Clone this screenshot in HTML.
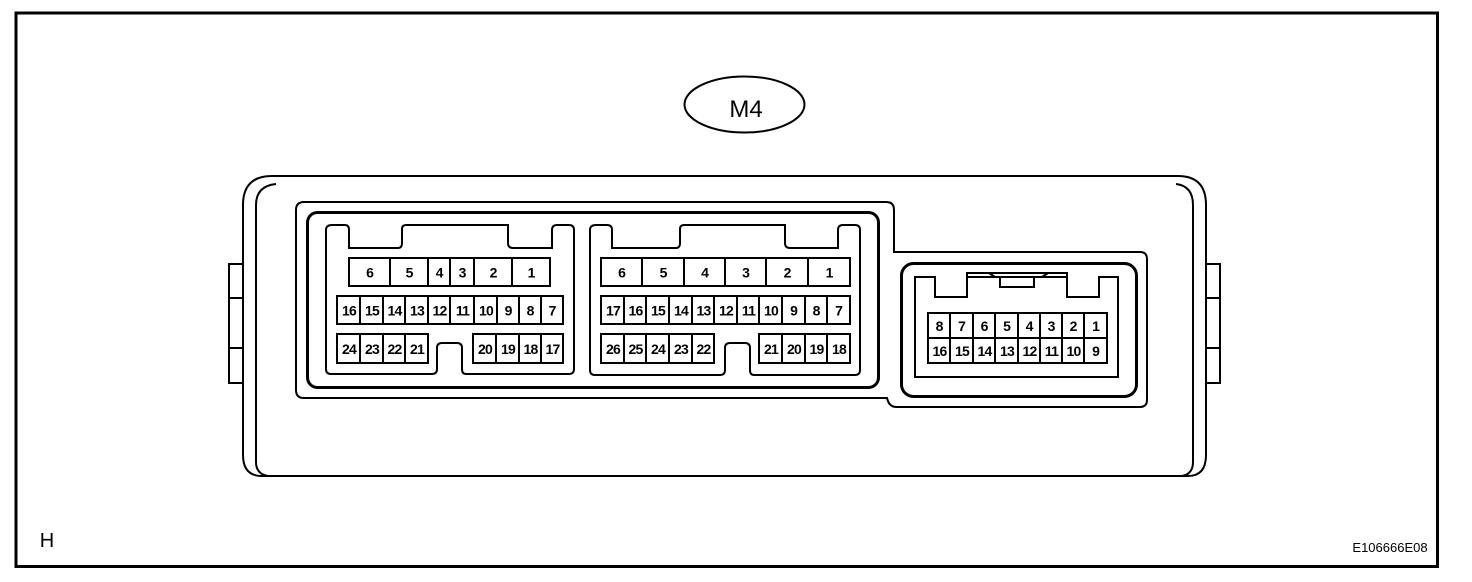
<!DOCTYPE html>
<html><head><meta charset="utf-8"><style>
html,body{margin:0;padding:0;background:#fff;}
svg{display:block;}
text{font-family:"Liberation Sans",Arial,sans-serif;font-weight:bold;fill:#000;text-anchor:middle;}
</style></head><body>
<svg width="1472" height="582" viewBox="0 0 1472 582" xmlns="http://www.w3.org/2000/svg">
<rect x="16" y="13" width="1421.5" height="553.5" fill="none" stroke="#000" stroke-width="3"/>
<ellipse cx="744.5" cy="104.5" rx="60" ry="28" fill="none" stroke="#000" stroke-width="2"/>
<text x="746" y="117" font-size="24" style="font-weight:normal">M4</text>
<text x="47" y="547" font-size="20" style="font-weight:normal">H</text>
<text x="1390" y="552" font-size="13" style="font-weight:normal">E106666E08</text>

<g fill="none" stroke="#000" stroke-width="2">
<path d="M243,265 V205 Q243,176 272,176 H1178 Q1206,176 1206,205 V455 Q1206,476 1188,476 H262 Q243,476 243,455 Z"/>
<path d="M256,205 Q256,186 276,184 M256,205 V462 Q256,474 268,476 M1193,205 Q1193,186 1176,184 M1193,205 V462 Q1193,474 1182,476"/>
<path d="M243,264 H229 V383 H243 M229,298 H243 M229,348 H243"/>
<path d="M1206,264 H1220 V383 H1206 M1206,298 H1220 M1206,348 H1220"/>
<path d="M304,202 H886 Q894,202 894,210 V252 H1140 Q1147,252 1147,259 V400 Q1147,407 1140,407 H896 Q889,407 887,398 H304 Q296,398 296,390 V210 Q296,202 304,202 Z"/>
</g>
<g fill="none" stroke="#000" stroke-width="3">
<rect x="307.5" y="212.5" width="571" height="175" rx="10"/>
<rect x="901.5" y="263.5" width="235" height="133" rx="12"/>
</g>
<g fill="none" stroke="#000" stroke-width="2">
<path d="M332,225 H345 Q349,225 349,230 V248 H398 Q402,248 402,243 V229 Q402,225 406,225 H508 V243 Q508,248 513,248 H552 V230 Q552,225 557,225 H569 Q574,225 574,230 V369 Q574,374 569,374 H466 Q462,374 462,369 V348 Q462,343 457,343 H442 Q437,343 437,348 V369 Q437,374 432,374 H331 Q326,374 326,369 V230 Q326,225 332,225 Z"/>
<path d="M596,225 H607 Q612,225 612,230 V248 H676 Q680,248 680,243 V229 Q680,225 684,225 H785 V243 Q785,248 790,248 H838 V230 Q838,225 843,225 H855 Q860,225 860,230 V370 Q860,375 855,375 H754 Q750,375 750,370 V348 Q750,343 745,343 H730 Q725,343 725,348 V370 Q725,375 720,375 H595 Q590,375 590,370 V230 Q590,225 596,225 Z"/>
<path d="M915,277 H935 V297 H967 V273 H1067 V297 H1099 V277 H1118 V377 H915 Z"/>
<path d="M967,277 H995 L989,273 M995,277 H1042 L1048,273 M1042,277 H1067"/>
<rect x="1000" y="277" width="34" height="10"/>
</g>
<g id="cells" fill="none" stroke="#000" stroke-width="2"></g>
<g id="labels" font-size="14"></g>
</svg>
<script>
var ns="http://www.w3.org/2000/svg";
var cg=document.getElementById('cells'),lg=document.getElementById('labels');
function row(xs,y1,y2,labels){
  var r=document.createElementNS(ns,'rect');
  r.setAttribute('x',xs[0]);r.setAttribute('y',y1);r.setAttribute('width',xs[xs.length-1]-xs[0]);r.setAttribute('height',y2-y1);cg.appendChild(r);
  for(var i=1;i<xs.length-1;i++){var l=document.createElementNS(ns,'line');l.setAttribute('x1',xs[i]);l.setAttribute('x2',xs[i]);l.setAttribute('y1',y1);l.setAttribute('y2',y2);cg.appendChild(l);}
  for(var i=0;i<labels.length;i++){var t=document.createElementNS(ns,'text');t.setAttribute('x',(xs[i]+xs[i+1])/2+0.5);t.setAttribute('y',(y1+y2)/2+5.5);t.textContent=labels[i];
    if(labels[i].length>1){t.setAttribute('letter-spacing','-0.8');t.setAttribute('font-size','14');}
    lg.appendChild(t);}
}
row([349,390,428,450,474,512,550],258,286,['6','5','4','3','2','1']);
row([337,360,383,405,428,450,474,497,519,541,563],296,324,['16','15','14','13','12','11','10','9','8','7']);
row([337,360,383,405,428],334,363,['24','23','22','21']);
row([473,496,519,541,563],334,363,['20','19','18','17']);
row([601,642,684,725,766,808,850],258,286,['6','5','4','3','2','1']);
row([601,624,646,669,692,714,737,759,782,805,827,850],296,324,['17','16','15','14','13','12','11','10','9','8','7']);
row([601,624,646,669,692,714],334,363,['26','25','24','23','22']);
row([759,782,805,827,850],334,363,['21','20','19','18']);
row([928,950,973,995,1018,1040,1062,1084,1107],313,338,['8','7','6','5','4','3','2','1']);
row([928,950,973,995,1018,1040,1062,1084,1107],338,363,['16','15','14','13','12','11','10','9']);
</script>
</body></html>
